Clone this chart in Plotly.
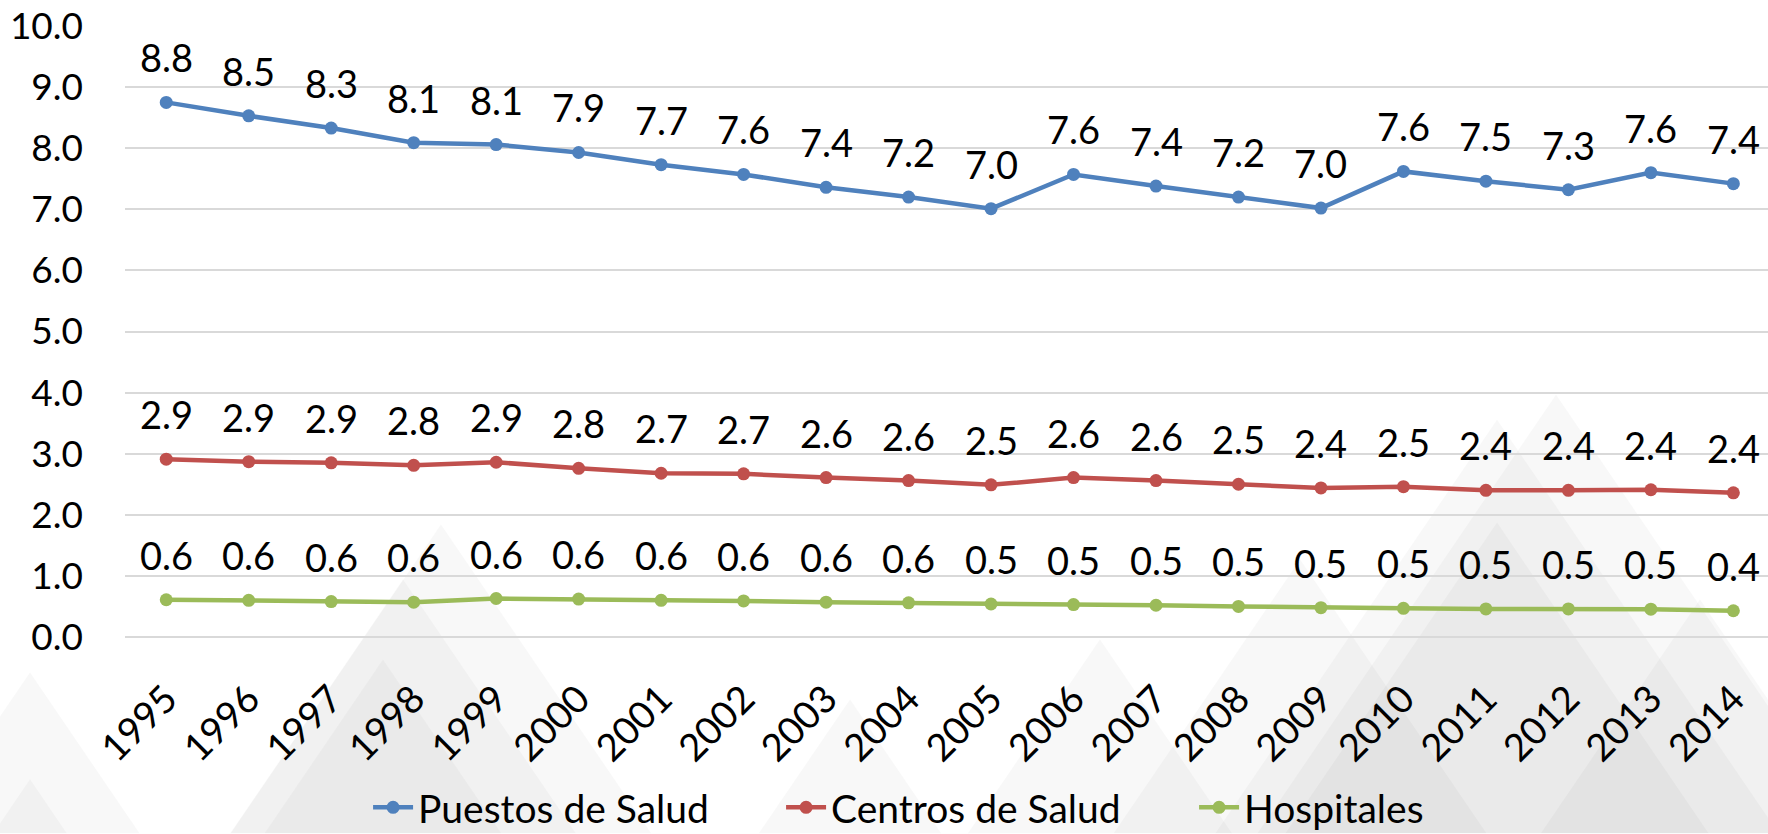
import plotly.graph_objects as go

# Camas por 10 000 hab. por tipo de establecimiento, 1995-2014
years = [str(y) for y in range(1995, 2015)]
puestos = [8.75, 8.53, 8.33, 8.09, 8.06, 7.93, 7.73, 7.57, 7.36, 7.20,
           7.01, 7.57, 7.38, 7.20, 7.02, 7.62, 7.46, 7.32, 7.60, 7.42]
centros = [2.91, 2.87, 2.85, 2.81, 2.86, 2.76, 2.68, 2.67, 2.61, 2.56,
           2.49, 2.61, 2.56, 2.50, 2.44, 2.46, 2.40, 2.40, 2.41, 2.36]
hospitales = [0.61, 0.60, 0.58, 0.57, 0.63, 0.62, 0.60, 0.59, 0.57, 0.56,
              0.54, 0.53, 0.52, 0.50, 0.48, 0.47, 0.46, 0.46, 0.455, 0.43]
series = [
    ("Puestos de Salud", puestos, "#4F81BD"),
    ("Centros de Salud", centros, "#C0504D"),
    ("Hospitales", hospitales, "#9BBB59"),
]

FONT = "Lato, 'Open Sans', sans-serif"
W, H = 1768, 834
L, T, B = 125, 26, 196.5

fig = go.Figure()
for name, vals, color in series:
    fig.add_trace(go.Scatter(
        x=years, y=vals, name=name, mode="lines+markers",
        line=dict(color=color, width=4.5),
        marker=dict(color=color, size=13),
    ))
    # category axis: annotations are placed by category index
    for i, v in enumerate(vals):
        fig.add_annotation(x=i, y=v, text=f"{v:.1f}", showarrow=False,
                           yanchor="bottom", yshift=20,
                           font=dict(size=38, color="#000000", family=FONT))

# faint triangle pattern of the slide background (decoration only)
def px_to_paper(px, py):
    return (px - L) / (W - L), (H - B - py) / (H - T - B)

tri_apex = [(1556, 395), (1497, 420), (1497, 523), (441, 525), (403, 580),
            (383, 660), (30, 673), (30, 780), (1100, 640), (850, 700),
            (1700, 600), (1300, 560)]
for ax_, ay_ in tri_apex:
    half = (H - ay_) * 0.68
    pts = [px_to_paper(ax_, ay_), px_to_paper(ax_ + half, H), px_to_paper(ax_ - half, H)]
    path = "M " + " L ".join(f"{a:.4f},{b:.4f}" for a, b in pts) + " Z"
    fig.add_shape(type="path", path=path, xref="paper", yref="paper",
                  fillcolor="rgba(90,90,100,0.045)", line=dict(width=0), layer="below")

fig.update_layout(
    width=W, height=H,
    margin=dict(l=L, r=0, t=T, b=B, autoexpand=False),
    paper_bgcolor="white", plot_bgcolor="rgba(0,0,0,0)",
    font=dict(family=FONT, size=38, color="#000000"),
    showlegend=True,
    legend=dict(orientation="h", x=0.525, xanchor="center", y=-0.279, yanchor="middle",
                font=dict(size=39, family=FONT), bgcolor="rgba(0,0,0,0)",
                itemwidth=40, traceorder="normal",
                entrywidth=358, entrywidthmode="pixels"),
)
fig.update_xaxes(type="category", range=[-0.5, 19.42], showgrid=False,
                 showline=False, zeroline=False, tickangle=-45, automargin=False,
                 tickfont=dict(size=38, family=FONT), ticklabelstandoff=31)
fig.update_yaxes(range=[0, 10], dtick=1, tickformat=".1f", showgrid=True,
                 gridcolor="#D9D9D9", gridwidth=1.5, zeroline=True, automargin=False,
                 zerolinecolor="#D9D9D9", zerolinewidth=1.5, showline=False,
                 tickfont=dict(size=37, family=FONT), ticklabelstandoff=41)

# page has a default body margin; drop it so the figure fills the window
fig.write_html("out.html", config={"displayModeBar": False},
               post_script="document.body.style.margin='0';")
